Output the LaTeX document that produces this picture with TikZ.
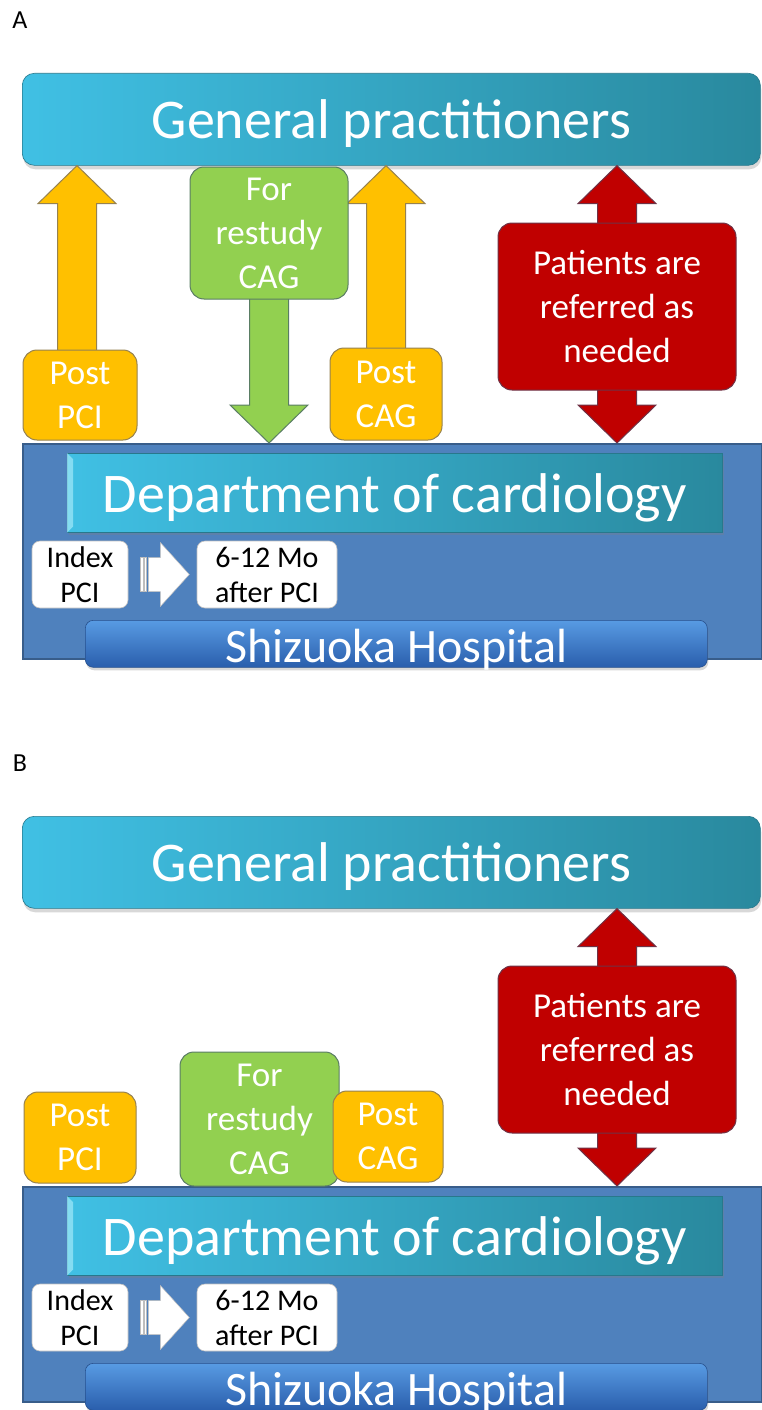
\documentclass[tikz,border=0pt]{standalone}
\usepackage{fontspec}
\setmainfont{Carlito}
\usetikzlibrary{calc,shadows}
\definecolor{cyanL}{RGB}{64,192,228}
\definecolor{cyanR}{RGB}{41,137,158}
\definecolor{cyanD}{RGB}{40,120,140}
\definecolor{cyanLt}{RGB}{150,228,246}
\definecolor{orF}{RGB}{255,192,0}
\definecolor{orD}{RGB}{150,130,80}
\definecolor{grF}{RGB}{146,208,80}
\definecolor{grD}{RGB}{90,125,100}
\definecolor{rdF}{RGB}{192,0,0}
\definecolor{rdD}{RGB}{110,50,70}
\definecolor{hoF}{RGB}{79,129,189}
\definecolor{hoD}{RGB}{56,93,138}
\definecolor{shT}{RGB}{88,155,227}
\definecolor{shB}{RGB}{42,94,172}
\definecolor{shD}{RGB}{40,80,140}
\definecolor{wbD}{RGB}{190,190,190}

\pgfdeclarelayer{back}\pgfdeclarelayer{arr}\pgfsetlayers{back,arr,main}

% block arrow from start #1 to tip #2, head length (signed) #3, style #4
\newcommand\blkarrow[4]{%
  \draw[#4] ($(#1)+(-19.5,0)$) -- ($(#2)+(-19.5,#3)$) -- ($(#2)+(-39,#3)$) -- (#2)
    -- ($(#2)+(39,#3)$) -- ($(#2)+(19.5,#3)$) -- ($(#1)+(19.5,0)$) -- cycle;}

% striped white arrow starting at #1 (east of first box)
\newcommand\stripearrow[1]{%
  \draw[warrow] ($(#1)+(12,-17)$) rectangle ($(#1)+(14.5,17)$);
  \draw[warrow] ($(#1)+(16,-17)$) rectangle ($(#1)+(18,17)$);
  \draw[warrow] ($(#1)+(20,-17)$) -- ($(#1)+(32,-17)$) -- ($(#1)+(32,-32)$) -- ($(#1)+(61,0)$)
    -- ($(#1)+(32,32)$) -- ($(#1)+(32,17)$) -- ($(#1)+(20,17)$) -- cycle;}

\tikzset{
  bigbar/.style={inner sep=0pt, text=white, left color=cyanL, right color=cyanR, draw=cyanD, line width=0.6pt},
  gpbar/.style={bigbar, rounded corners=12pt, font=\fontsize{56}{67}\selectfont,
    text height=44pt, text depth=6pt,
    drop shadow={shadow xshift=1pt, shadow yshift=-4pt, opacity=0.3}},
  deptbar/.style={bigbar, font=\fontsize{56}{67}\selectfont,
    text height=45pt, text depth=6pt,
    drop shadow={shadow xshift=2pt, shadow yshift=-3pt, opacity=0.3}},
  hospbox/.style={fill=hoF, draw=hoD, line width=1.5pt, inner sep=0pt},
  shzbar/.style={inner sep=0pt, top color=shT, bottom color=shB, draw=shD, line width=0.6pt,
    rounded corners=8pt, text=white, font=\fontsize{48}{57}\selectfont,
    text height=40pt, text depth=3pt,
    drop shadow={shadow xshift=1pt, shadow yshift=-3pt, opacity=0.3}},
  cbox/.style={inner sep=0pt, rounded corners=14pt, text=white, align=center,
    font=\fontsize{35}{44}\selectfont, line width=1pt},
  orbox/.style={cbox, fill=orF, draw=orD},
  grbox/.style={cbox, fill=grF, draw=grD},
  rdbox/.style={cbox, fill=rdF, draw=rdD},
  wbox/.style={inner sep=0pt, rounded corners=8pt, fill=white, draw=wbD, line width=0.6pt,
    align=center, font=\fontsize{30}{35}\selectfont, text=black},
  orarrow/.style={fill=orF, draw=orD, line width=1pt},
  grarrow/.style={fill=grF, draw=grD, line width=1pt},
  rdarrow/.style={fill=rdF, draw=rdD, line width=1pt},
  warrow/.style={fill=white, draw=wbD, line width=0.5pt},
  bevel/.style={fill=cyanLt, opacity=0.8},
  plabel/.style={font=\fontsize{26}{30}\selectfont, text=black, inner sep=0pt}
}

% common part of a panel: #1 prefix, #2 vertical offset
\newcommand\commonpanel[2]{%
  \begin{pgfonlayer}{back}
  \node[hospbox, minimum width=739pt, minimum height=215pt, anchor=north west] (#1-hosp) at (22,{443+#2}) {};
  \node[gpbar, minimum width=738pt, minimum height=92pt, anchor=north west] (#1-gp) at (22,{73+#2}) {General practitioners};
  \node[deptbar, minimum width=655pt, minimum height=79pt, anchor=north west] (#1-dept) at (67,{453+#2}) {Department of cardiology};
  \fill[bevel] (#1-dept.north west) -- ($(#1-dept.north west)+(6,6)$) -- ($(#1-dept.south west)+(6,-6)$) -- (#1-dept.south west) -- cycle;
  \node[shzbar, minimum width=622pt, minimum height=47pt, anchor=north west] (#1-shz) at (85,{620+#2}) {Shizuoka Hospital};
  \node[wbox, minimum width=96pt, minimum height=67pt] (#1-idx) at (80,{574.5+#2}) {Index\\PCI};
  \node[wbox, minimum width=140pt, minimum height=67pt] (#1-m612) at (267,{574.5+#2}) {6-12 Mo\\after PCI};
  \stripearrow{#1-idx.east}
  \end{pgfonlayer}
  \node[rdbox, minimum width=238pt, minimum height=167pt] (#1-red) at (617,{306.5+#2}) {Patients are\\referred as\\needed};
  \coordinate (#1-rt) at (#1-red.center |- #1-gp.south);
  \coordinate (#1-rb) at (#1-red.center |- #1-hosp.north);
  \begin{pgfonlayer}{arr}
  \blkarrow{#1-red.center}{#1-rt}{38}{rdarrow}
  \blkarrow{#1-red.center}{#1-rb}{-38}{rdarrow}
  \end{pgfonlayer}
}

\begin{document}
\begin{tikzpicture}[x=1pt,y=-1pt]
\useasboundingbox (0,0) rectangle (761,1410);
\begin{pgfonlayer}{back}
\fill[white] (0,0) rectangle (761,1410);
\end{pgfonlayer}

% ---------------- Panel A ----------------
\node[plabel] (A-lab) at (20,20) {A};
\commonpanel{A}{0}
\node[orbox, minimum width=114pt, minimum height=90pt] (A-ppci) at (80,395) {Post\\PCI};
\node[orbox, minimum width=112pt, minimum height=92pt] (A-pcag) at (386,394) {Post\\CAG};
\node[grbox, minimum width=158pt, minimum height=132pt] (A-green) at (269,233) {For\\restudy\\CAG};
\coordinate (A-t1) at ($(A-ppci.center |- A-gp.south)+(-3,0)$);
\coordinate (A-s1) at ($(A-ppci.center)+(-3,0)$);
\coordinate (A-t2) at (A-pcag.center |- A-gp.south);
\coordinate (A-t3) at (A-green.center |- A-hosp.north);
\begin{pgfonlayer}{arr}
\blkarrow{A-s1}{A-t1}{38}{orarrow}
\blkarrow{A-pcag.center}{A-t2}{38}{orarrow}
\blkarrow{A-green.center}{A-t3}{-38}{grarrow}
\end{pgfonlayer}

% ---------------- Panel B ----------------
\node[plabel] (B-lab) at (20,763) {B};
\commonpanel{B}{743}
\node[orbox, minimum width=112pt, minimum height=91pt] (B-ppci) at (80,{394.5+743}) {Post\\PCI};
\node[grbox, minimum width=159pt, minimum height=134pt] (B-green) at (259.5,{376+743}) {For\\restudy\\CAG};
\node[orbox, minimum width=110pt, minimum height=91pt] (B-pcag) at (388,{393.5+743}) {Post\\CAG};
\end{tikzpicture}
\end{document}
